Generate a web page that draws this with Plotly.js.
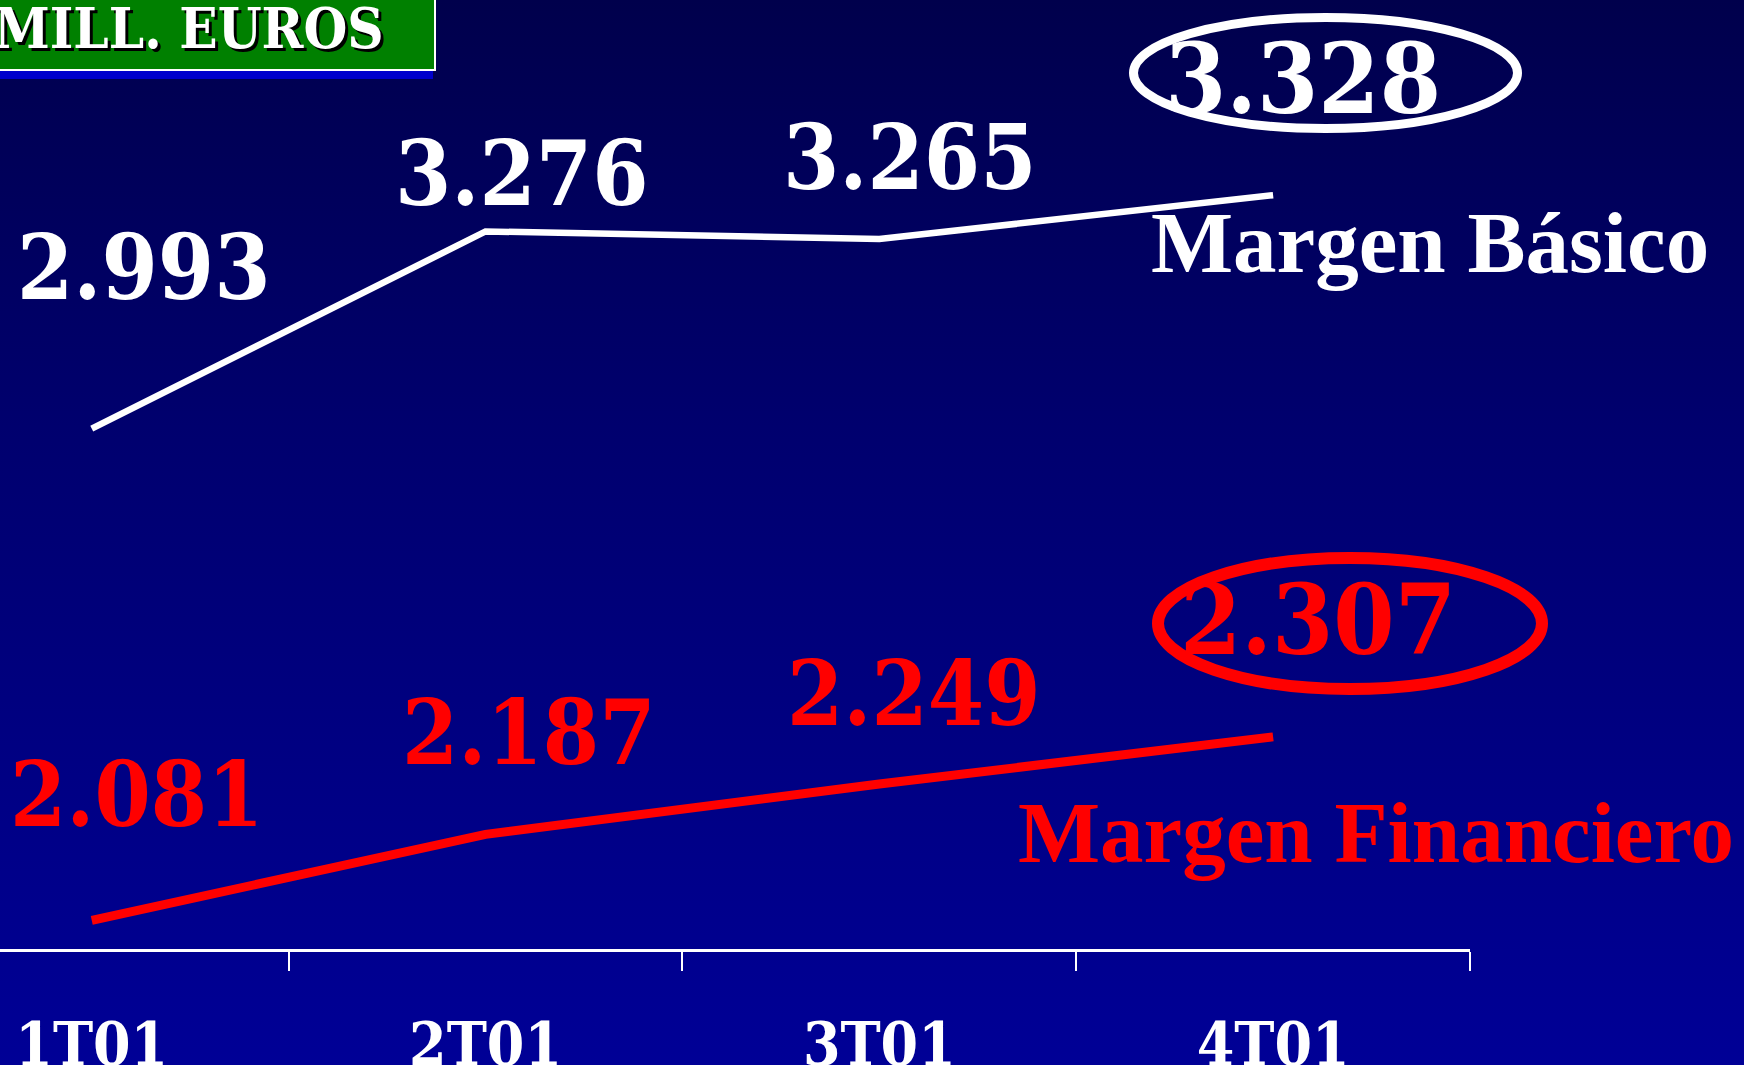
<!DOCTYPE html>
<html>
<head>
<meta charset="utf-8">
<script src="https://cdn.plot.ly/plotly-3.0.1.min.js"></script>
<style>
  html, body { margin: 0; padding: 0; width: 1744px; height: 1065px; overflow: hidden;
    background: linear-gradient(to bottom, #00004c 0%, #00006e 40%, #000096 100%); }
  #chart { width: 1744px; height: 1065px; }
</style>
</head>
<body>
<div id="chart"></div>
<script>
// ---- data ----
const quarters = ["1T01", "2T01", "3T01", "4T01"];
const margenBasico = [2993, 3276, 3265, 3328];
const margenFinanciero = [2081, 2187, 2249, 2307];
const basicoLabels = ["2.993", "3.276", "3.265", "3.328"];
const financieroLabels = ["2.081", "2.187", "2.249", "2.307"];
const seriesNames = ["Margen Básico", "Margen Financiero"];
const unitLabel = "MILL. EUROS";

// ---- layout helpers (pixel -> paper) ----
const W = 1744, H = 1065;
const mL = 0, mR = 274, mT = 0, mB = 116;
const pw = W - mL - mR, ph = H - mT - mB;
const px = v => (v - mL) / pw;
const py = v => 1 - (v - mT) / ph;

const numFont = "DejaVu Serif Condensed, DejaVu Serif, serif";
const nameFont = "Liberation Serif, Times New Roman, serif";

const traces = [
  { x: quarters, y: margenBasico, type: "scatter", mode: "lines", name: seriesNames[0],
    line: { color: "#ffffff", width: 6.5 }, yaxis: "y", hoverinfo: "skip" },
  { x: quarters, y: margenFinanciero, type: "scatter", mode: "lines", name: seriesNames[1],
    line: { color: "#ff0000", width: 9 }, yaxis: "y2", hoverinfo: "skip" }
];

// label positions (pixel centres in the picture)
const bY = [267, 173, 157, 79];
const bDx = [52, 36, 31, 30];
const fY = [794, 732, 693, 619];
const fDx = [45, 43, 35, 45];

const annotations = [];
quarters.forEach((q, i) => {
  const big = i === quarters.length - 1;
  annotations.push({ x: q, xref: "x", xshift: bDx[i], y: py(bY[i]), yref: "paper",
    text: basicoLabels[i], showarrow: false, xanchor: "center", yanchor: "middle",
    font: { family: numFont, size: big ? 98 : 90, color: "#ffffff", weight: 700 } });
  annotations.push({ x: q, xref: "x", xshift: fDx[i], y: py(fY[i]), yref: "paper",
    text: financieroLabels[i], showarrow: false, xanchor: "center", yanchor: "middle",
    font: { family: numFont, size: big ? 98 : 90, color: "#ff0000", weight: 700 } });
});
annotations.push({ x: px(1430), xref: "paper", y: py(243), yref: "paper", text: seriesNames[0],
  showarrow: false, xanchor: "center", yanchor: "middle",
  font: { family: nameFont, size: 87, color: "#ffffff", weight: 700 } });
annotations.push({ x: px(1376), xref: "paper", y: py(832), yref: "paper", text: seriesNames[1],
  showarrow: false, xanchor: "center", yanchor: "middle",
  font: { family: nameFont, size: 87, color: "#ff0000", weight: 700 } });
annotations.push({ x: px(386), xref: "paper", y: py(28), yref: "paper", text: unitLabel,
  showarrow: false, xanchor: "right", yanchor: "middle",
  font: { family: numFont, size: 56, color: "#ffffff", weight: 700, shadow: "3px 3px 0px #000000" } });

const shapes = [
  // blue shadow bar under the unit box
  { type: "rect", xref: "paper", yref: "paper", x0: px(-5), x1: px(433), y0: py(79), y1: py(68),
    fillcolor: "#0000cc", line: { width: 0 }, layer: "below" },
  // green unit box
  { type: "rect", xref: "paper", yref: "paper", x0: px(-5), x1: px(435), y0: py(70), y1: py(-5),
    fillcolor: "#008000", line: { color: "#ffffff", width: 2 }, layer: "below" },
  // ellipses round the last values
  { type: "circle", xref: "paper", yref: "paper", x0: px(1133.5), x1: px(1517.5), y0: py(128.5), y1: py(17.5),
    line: { color: "#ffffff", width: 9 }, fillcolor: "rgba(0,0,0,0)" },
  { type: "circle", xref: "paper", yref: "paper", x0: px(1158), x1: px(1542), y0: py(689), y1: py(558),
    line: { color: "#ff0000", width: 12 }, fillcolor: "rgba(0,0,0,0)" }
];

const layout = {
  width: W, height: H,
  margin: { l: mL, r: mR, t: mT, b: mB, pad: 0 },
  paper_bgcolor: "rgba(0,0,0,0)",
  plot_bgcolor: "rgba(0,0,0,0)",
  showlegend: false,
  xaxis: {
    type: "category", range: [-0.233, 3.5], fixedrange: true,
    showgrid: false, zeroline: false,
    showline: true, linecolor: "#ffffff", linewidth: 3,
    ticks: "outside", tickson: "boundaries", ticklen: 19, tickwidth: 2, tickcolor: "#ffffff",
    ticklabelstandoff: 41,
    tickfont: { family: numFont, size: 60, color: "#ffffff", weight: 700 }
  },
  yaxis: { range: [2246.5, 3608], visible: false, fixedrange: true, showgrid: false, zeroline: false },
  yaxis2: { range: [2045.8, 3214.5], overlaying: "y", visible: false, fixedrange: true,
            showgrid: false, zeroline: false },
  annotations: annotations,
  shapes: shapes
};

Plotly.newPlot("chart", traces, layout, { staticPlot: true, displayModeBar: false });
</script>
</body>
</html>
